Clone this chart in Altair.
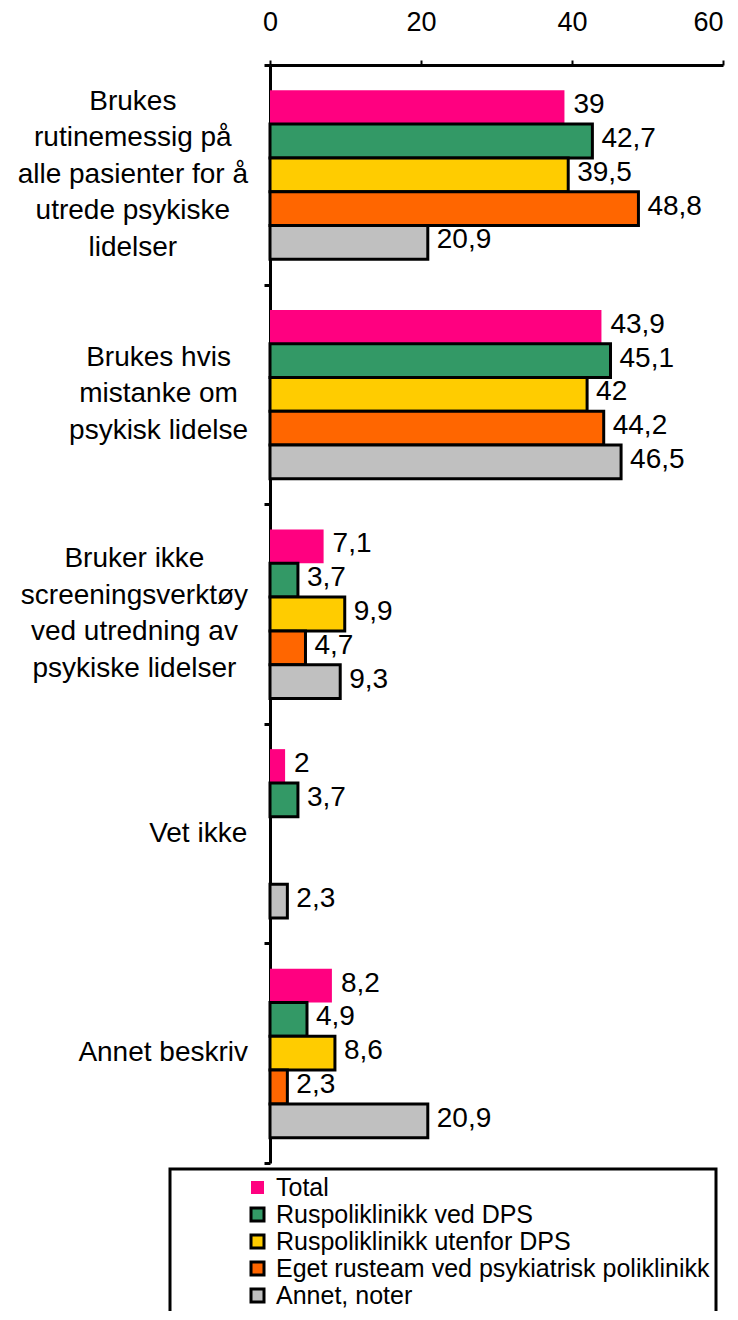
import altair as alt
import pandas as pd

# ---- data ----
category_lines = [
    ["Brukes", "rutinemessig på", "alle pasienter for å", "utrede psykiske", "lidelser"],
    ["Brukes hvis", "mistanke om", "psykisk lidelse"],
    ["Bruker ikke", "screeningsverktøy", "ved utredning av", "psykiske lidelser"],
    ["Vet ikke"],
    ["Annet beskriv"],
]
series = [
    "Total",
    "Ruspoliklinikk ved DPS",
    "Ruspoliklinikk utenfor DPS",
    "Eget rusteam ved psykiatrisk poliklinikk",
    "Annet, noter",
]
total = [39, 43.9, 7.1, 2, 8.2]
ved_dps = [42.7, 45.1, 3.7, 3.7, 4.9]
utenfor_dps = [39.5, 42, 9.9, None, 8.6]
eget_rusteam = [48.8, 44.2, 4.7, None, 2.3]
annet = [20.9, 46.5, 9.3, 2.3, 20.9]
x_ticks = [0, 20, 40, 60]

colors = ["#FF0080", "#339966", "#FFCC00", "#FF6600", "#C0C0C0"]
strokes = ["transparent", "black", "black", "black", "black"]

# ---- layout helpers ----
FONT = "Liberation Sans"
CAT_FS = 28
LINE_H = 36.5
ARIAL = {'B': 667, 'r': 333, 'u': 556, 'k': 500, 'e': 556, 's': 500, ' ': 278, 't': 278,
         'i': 222, 'n': 556, 'm': 833, 'g': 556, 'p': 556, 'å': 556, 'a': 556, 'l': 222,
         'f': 278, 'o': 556, 'd': 556, 'y': 500, 'h': 556, 'v': 500, 'c': 500, 'ø': 611,
         'V': 667, 'A': 667, 'b': 556}


def text_w(s, fs):
    return sum(ARIAL.get(ch, 556) for ch in s) / 1000.0 * fs


cat_keys = ["\n".join(lines) for lines in category_lines]
LABEL_RIGHT = -22  # right edge of each label block, relative to the plot's left edge

rows = []
for s, vals in zip(series, [total, ved_dps, utenfor_dps, eget_rusteam, annet]):
    for c, v in zip(cat_keys, vals):
        if v is None:
            continue
        rows.append({"cat": c, "series": s, "value": v,
                     "label": (f"{v:g}").replace(".", ",")})
df = pd.DataFrame(rows)

cat_df = pd.DataFrame({
    "cat": cat_keys,
    "n": [len(lines) for lines in category_lines],
    "lx": [LABEL_RIGHT - max(text_w(l, CAT_FS) for l in lines) / 2 for lines in category_lines],
})

y_enc = alt.Y("cat:N", sort=cat_keys,
              scale=alt.Scale(domain=cat_keys, paddingInner=0, paddingOuter=0),
              axis=alt.Axis(labels=False, title=None, tickBand="extent",
                            domainWidth=3, domainColor="black",
                            tickSize=6, tickWidth=3, tickColor="black"))
yoff_enc = alt.YOffset("series:N", sort=series,
                       scale=alt.Scale(domain=series, paddingInner=0, paddingOuter=0.75))
x_scale = alt.Scale(domain=[0, 60], nice=False)

legend_kw = dict(title=None, orient="none", legendX=-100, legendY=1104)

bars = alt.Chart(df).mark_bar(strokeWidth=3).encode(
    x=alt.X("value:Q", scale=x_scale,
            axis=alt.Axis(orient="top", values=x_ticks, title=None, grid=False,
                          domainWidth=3, domainColor="black", tickSize=5, tickWidth=2,
                          tickColor="black", labelFont=FONT, labelFontSize=27,
                          labelColor="black", labelPadding=24, labelFlush=False,
                          labelAlign=alt.ExprRef("datum.value == 60 ? 'right' : 'center'"))),
    y=y_enc,
    yOffset=yoff_enc,
    fill=alt.Fill("series:N", sort=series,
                  scale=alt.Scale(domain=series, range=colors),
                  legend=alt.Legend(**legend_kw)),
    stroke=alt.Stroke("series:N", sort=series,
                      scale=alt.Scale(domain=series, range=strokes),
                      legend=alt.Legend(**legend_kw)),
)

values = alt.Chart(df).mark_text(align="left", baseline="middle", dx=9, dy=-2,
                                 font=FONT, fontSize=28, color="black").encode(
    x=alt.X("value:Q", scale=x_scale),
    y=alt.Y("cat:N", sort=cat_keys),
    yOffset=yoff_enc,
    text="label:N",
)

cat_text = alt.Chart(cat_df).mark_text(
    align="center", baseline="middle", lineBreak="\n", lineHeight=LINE_H,
    font=FONT, fontSize=CAT_FS, color="black",
    dy=alt.ExprRef(f"-(datum.n - 1) * {LINE_H} / 2"),
).encode(
    x=alt.X("lx:Q", scale=None, axis=None),
    y=alt.Y("cat:N", sort=cat_keys),
    text="cat:N",
)

chart = alt.layer(bars, values, cat_text).properties(
    width=453, height=1098,
    autosize=alt.AutoSizeParams(type="none"),
    padding={"left": 262, "top": 57, "right": 7, "bottom": 148},
    background="white",
).configure_view(stroke=None).configure_legend(
    strokeColor="black", strokeWidth=3, padding=6, symbolOffset=69,
    symbolType="square", symbolSize=169, symbolStrokeWidth=3, symbolOpacity=1,
    labelFont=FONT, labelFontSize=25, labelColor="black", labelLimit=1000,
    labelOffset=6, rowPadding=1,
)

chart.save("out.html", embed_options={"renderer": "svg", "actions": False})
